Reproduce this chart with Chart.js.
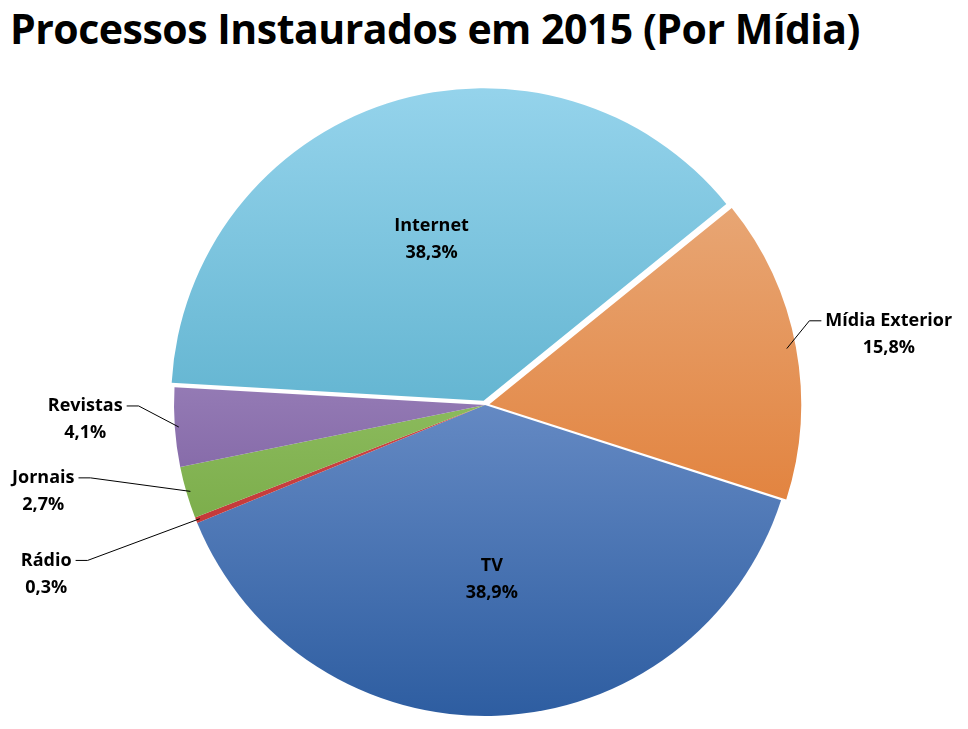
<!DOCTYPE html>
<html><head><meta charset="utf-8">
<script src="https://cdn.jsdelivr.net/npm/chart.js@4/dist/chart.umd.min.js"></script>
<style>html,body{margin:0;background:#fff}#w{position:relative;width:968px;height:729px}
h1{position:absolute;left:10px;top:0px;margin:0;font:bold 41px "Open Sans",sans-serif;color:#000;letter-spacing:-0.5px}
canvas{position:absolute;left:0;top:0}</style></head>
<body><div id="w"><h1>Processos Instaurados em 2015 (Por Mídia)</h1><canvas id="c" width="968" height="729"></canvas></div>
<script>
const categories=["Mídia Exterior","TV","Rádio","Jornais","Revistas","Internet"];
const values=[15.8,38.9,0.3,2.7,4.1,38.3];
const valueLabels=["15,8%","38,9%","0,3%","2,7%","4,1%","38,3%"];
const colorTop=["#eab48a","#9cb6e6","#e07070","#b4dc8a","#c4b0dc","#96d4ec"];
const colorBot=["#de6a18","#2c5ca0","#b82020","#62982e","#5e3e88","#3498b8"];
const offsets=[18,0,0,0,0,18];
const inside=[false,true,false,false,false,true];
const labelDeg=[80,0,249,259,268,0];
const labelDist=[410,0,470,450,400,0];
const labelsPlugin={id:'lbl',afterDatasetsDraw(ch){
 const ctx=ch.ctx,meta=ch.getDatasetMeta(0);
 meta.data.forEach((a,i)=>{
  const mid=(a.startAngle+a.endAngle)/2;
  const cx=a.x,cy=a.y,r=a.outerRadius;
  ctx.save();ctx.font='bold 18px "Open Sans",sans-serif';ctx.fillStyle='#000';ctx.textAlign='center';ctx.textBaseline='middle';
  let lx,ly;
  if(inside[i]){lx=cx+Math.cos(mid)*r*0.56;ly=cy+Math.sin(mid)*r*0.56;}
  else{
   const t=(labelDeg[i]-90)*Math.PI/180;
   lx=cx+Math.cos(t)*labelDist[i];ly=cy+Math.sin(t)*labelDist[i];
   const ox=a.x+Math.cos(mid)*(a.offset||0), oy=a.y+Math.sin(mid)*(a.offset||0);
   const ex=ox+Math.cos(mid)*(r-4),ey=oy+Math.sin(mid)*(r-4);
   const w=ctx.measureText(categories[i]).width;
   const side=Math.cos(t)>0?-1:1;
   const tx=lx+side*(w/2+4), ty=ly-13;
   ctx.strokeStyle='#000';ctx.lineWidth=1;ctx.beginPath();ctx.moveTo(ex,ey);ctx.lineTo(tx+side*12,ty);ctx.lineTo(tx,ty);ctx.stroke();
  }
  ctx.fillText(categories[i],lx,ly-13);ctx.fillText(valueLabels[i],lx,ly+14);
  ctx.restore();
 });
}};
new Chart(document.getElementById('c'),{type:'pie',
 data:{labels:categories,datasets:[{data:values,
  backgroundColor:(c)=>{const ch=c.chart,a=ch.chartArea;if(!a)return colorTop[c.dataIndex];
   const g=ch.ctx.createLinearGradient(0,a.top,0,a.bottom);g.addColorStop(0,colorTop[c.dataIndex]);g.addColorStop(1,colorBot[c.dataIndex]);return g;},
  borderWidth:0,offset:offsets}]},
 options:{responsive:false,animation:false,rotation:51,
  layout:{padding:{left:165,right:163,top:85,bottom:4}},
  plugins:{legend:{display:false},tooltip:{enabled:false}}},
 plugins:[labelsPlugin]});
</script></body></html>
